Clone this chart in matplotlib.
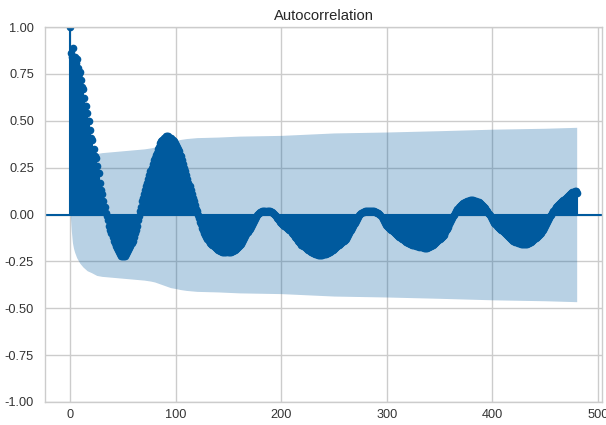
import numpy as np
import matplotlib
matplotlib.use("Agg")
import matplotlib.pyplot as plt

# autocorrelation values, one per lag (lag 0 .. 480)
acf_vals = [
    1.00, 0.86, 0.84, 0.89, 0.84, 0.81, 0.83, 0.78, 0.75, 0.76,
    0.72, 0.68, 0.67, 0.62, 0.58, 0.58, 0.54, 0.50, 0.50, 0.45,
    0.41, 0.40, 0.35, 0.31, 0.30, 0.26, 0.22, 0.22, 0.17, 0.13,
    0.11, 0.07, 0.04, 0.04, 0.01, -0.01, -0.03, -0.06, -0.08, -0.10,
    -0.12, -0.14, -0.15, -0.17, -0.18, -0.19, -0.20, -0.21, -0.22, -0.22,
    -0.22, -0.22, -0.22, -0.21, -0.20, -0.19, -0.18, -0.17, -0.15, -0.14,
    -0.12, -0.10, -0.08, -0.06, -0.03, -0.01, 0.02, 0.04, 0.07, 0.09,
    0.11, 0.13, 0.15, 0.17, 0.19, 0.21, 0.23, 0.25, 0.27, 0.29,
    0.30, 0.32, 0.33, 0.35, 0.36, 0.38, 0.39, 0.40, 0.40, 0.41,
    0.41, 0.42, 0.42, 0.42, 0.41, 0.41, 0.40, 0.40, 0.39, 0.38,
    0.37, 0.36, 0.35, 0.34, 0.32, 0.31, 0.29, 0.27, 0.25, 0.23,
    0.21, 0.19, 0.17, 0.15, 0.13, 0.11, 0.09, 0.07, 0.05, 0.03,
    0.02, 0.00, -0.02, -0.04, -0.05, -0.07, -0.085, -0.10, -0.11, -0.12,
    -0.13, -0.14, -0.15, -0.155, -0.16, -0.165, -0.17, -0.175, -0.18, -0.185,
    -0.19, -0.19, -0.195, -0.195, -0.20, -0.20, -0.20, -0.20, -0.20, -0.20,
    -0.20, -0.20, -0.20, -0.195, -0.195, -0.19, -0.19, -0.185, -0.18, -0.175,
    -0.17, -0.16, -0.155, -0.145, -0.135, -0.125, -0.115, -0.105, -0.095, -0.085,
    -0.075, -0.065, -0.055, -0.045, -0.035, -0.025, -0.015, -0.005, 0.005, 0.01,
    0.013, 0.016, 0.018, 0.02, 0.02, 0.02, 0.02, 0.02, 0.02, 0.018,
    0.015, 0.012, 0.008, 0.004, 0.0, -0.01, -0.02, -0.025, -0.03, -0.04,
    -0.045, -0.05, -0.055, -0.06, -0.065, -0.07, -0.075, -0.08, -0.085, -0.09,
    -0.10, -0.105, -0.11, -0.12, -0.125, -0.13, -0.14, -0.145, -0.15, -0.16,
    -0.165, -0.17, -0.175, -0.18, -0.185, -0.19, -0.19, -0.195, -0.20, -0.20,
    -0.205, -0.205, -0.21, -0.21, -0.21, -0.215, -0.215, -0.215, -0.215, -0.215,
    -0.21, -0.21, -0.21, -0.205, -0.205, -0.20, -0.20, -0.195, -0.19, -0.19,
    -0.185, -0.18, -0.175, -0.17, -0.165, -0.16, -0.155, -0.15, -0.145, -0.14,
    -0.135, -0.13, -0.12, -0.11, -0.10, -0.09, -0.08, -0.07, -0.06, -0.05,
    -0.045, -0.035, -0.025, -0.015, -0.005, 0.005, 0.01, 0.013, 0.016, 0.018,
    0.02, 0.02, 0.02, 0.02, 0.02, 0.02, 0.02, 0.02, 0.018, 0.016,
    0.013, 0.01, 0.006, 0.002, -0.005, -0.015, -0.025, -0.035, -0.045, -0.055,
    -0.06, -0.065, -0.07, -0.075, -0.08, -0.085, -0.09, -0.095, -0.10, -0.105,
    -0.11, -0.115, -0.12, -0.125, -0.13, -0.13, -0.135, -0.14, -0.145, -0.145,
    -0.15, -0.15, -0.155, -0.155, -0.16, -0.16, -0.165, -0.165, -0.17, -0.17,
    -0.17, -0.175, -0.175, -0.175, -0.175, -0.18, -0.18, -0.18, -0.18, -0.175,
    -0.175, -0.17, -0.17, -0.165, -0.16, -0.155, -0.15, -0.145, -0.14, -0.135,
    -0.13, -0.125, -0.12, -0.115, -0.11, -0.095, -0.085, -0.075, -0.065, -0.05,
    -0.04, -0.03, -0.02, -0.01, 0.0, 0.01, 0.02, 0.03, 0.04, 0.045,
    0.05, 0.055, 0.06, 0.063, 0.066, 0.069, 0.071, 0.073, 0.074, 0.075,
    0.075, 0.075, 0.075, 0.074, 0.073, 0.071, 0.069, 0.066, 0.062, 0.058,
    0.053, 0.047, 0.04, 0.033, 0.025, 0.017, 0.01, 0.003, -0.005, -0.015,
    -0.025, -0.035, -0.045, -0.05, -0.06, -0.065, -0.07, -0.075, -0.08, -0.085,
    -0.09, -0.095, -0.10, -0.105, -0.11, -0.115, -0.12, -0.125, -0.13, -0.135,
    -0.14, -0.14, -0.145, -0.145, -0.15, -0.15, -0.15, -0.155, -0.155, -0.155,
    -0.155, -0.155, -0.155, -0.155, -0.15, -0.15, -0.145, -0.145, -0.14, -0.135,
    -0.13, -0.125, -0.12, -0.115, -0.11, -0.105, -0.10, -0.09, -0.08, -0.07,
    -0.06, -0.05, -0.04, -0.03, -0.02, -0.01, 0.0, 0.01, 0.02, 0.03,
    0.04, 0.045, 0.05, 0.055, 0.06, 0.065, 0.07, 0.075, 0.08, 0.085,
    0.09, 0.095, 0.10, 0.105, 0.11, 0.115, 0.118, 0.121, 0.124, 0.126,
    0.115,
]

# half width of the confidence band, read at a few lags
conf_lags = [0, 1, 2, 3, 4, 6, 9, 12, 16, 20, 25, 30, 40, 50, 60, 70, 76, 80, 85,
             90, 95, 100, 104, 110, 120, 140, 160, 180, 200, 250, 300, 350, 400, 450, 480]
conf_half = [0.0, 0.09, 0.15, 0.18, 0.20, 0.23, 0.26, 0.28, 0.30, 0.31, 0.325, 0.33,
             0.335, 0.34, 0.345, 0.35, 0.355, 0.36, 0.37, 0.38, 0.39, 0.395, 0.40,
             0.405, 0.41, 0.413, 0.418, 0.42, 0.422, 0.435, 0.44, 0.447, 0.455,
             0.46, 0.465]

xticks = [0, 100, 200, 300, 400, 500]
yticks = [-1.0, -0.75, -0.5, -0.25, 0.0, 0.25, 0.5, 0.75, 1.0]

col = "#005a9e"

plt.rcParams["font.family"] = ["Liberation Sans", "DejaVu Sans"]
plt.rcParams["axes.edgecolor"] = "#cccccc"
plt.rcParams["axes.linewidth"] = 1.0

fig = plt.figure(figsize=(6.06, 4.25), dpi=100)
ax = fig.add_axes([45 / 606, 23 / 425, 557 / 606, 375 / 425])
ax.set_axisbelow(True)
ax.grid(True, color="#cccccc", linewidth=1.0)

lags = np.arange(len(acf_vals))
acf = np.array(acf_vals)
half = np.array(conf_half)

ax.vlines(lags, 0, acf, color=col, linewidth=1.5)
ax.axhline(0, color=col, linewidth=1.5)
ax.plot(lags, acf, "o", color=col, markersize=4.5)
ax.fill_between(conf_lags, -half, half, color=col, alpha=0.28, linewidth=0)

ax.set_xlim(-24, 504)
ax.set_ylim(-1.0, 1.0)
ax.set_xticks(xticks)
ax.set_yticks(yticks)
ax.set_yticklabels([f"{v:.2f}" for v in yticks])
ax.tick_params(axis="both", length=0, labelsize=9.2, colors="#333333")
ax.tick_params(axis="y", pad=8)
ax.tick_params(axis="x", pad=5)
ax.set_title("Autocorrelation", fontsize=10.6, color="#262626", pad=5)

fig.savefig("out.png", dpi=100)
